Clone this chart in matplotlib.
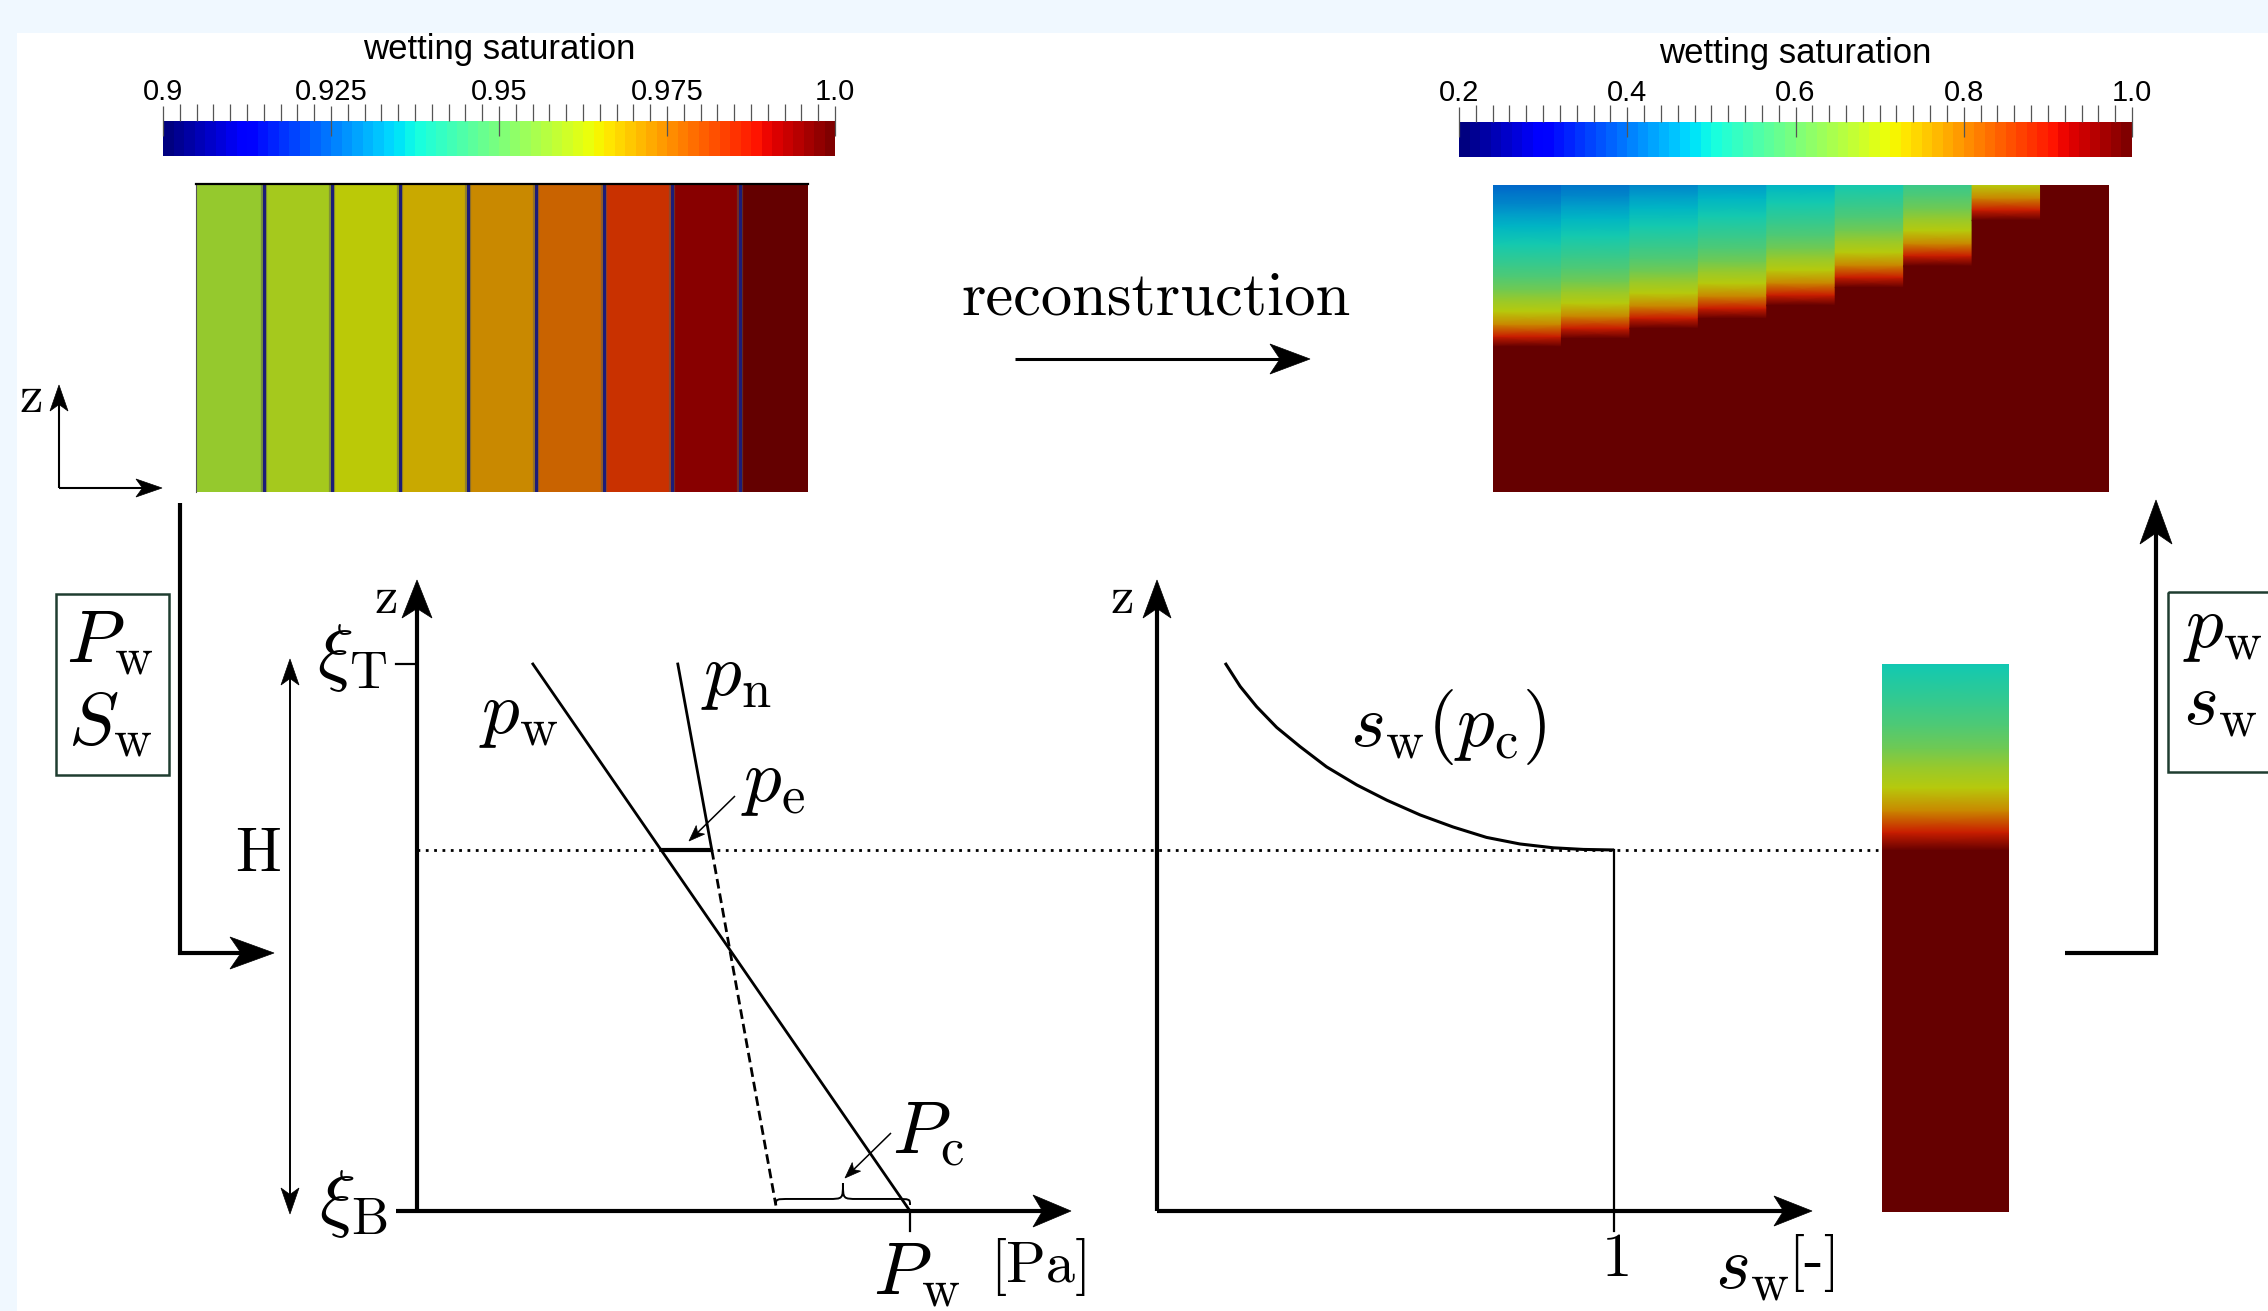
import numpy as np
import matplotlib.pyplot as plt
import matplotlib.transforms as mtransforms
from matplotlib.colors import Normalize, ListedColormap
from matplotlib.cm import ScalarMappable
from matplotlib.patches import Polygon, Rectangle, PathPatch
from matplotlib.path import Path
from matplotlib.ticker import MultipleLocator

plt.rcParams['mathtext.fontset'] = 'cm'

# ---- data ----
# left field: wetting saturation of the 9 coarse columns
strip_sat = [0.958, 0.9605, 0.964, 0.9683, 0.9725, 0.9775, 0.984, 0.9958, 1.0]
# right field: height of the saturation front in each column (domain height = 1)
front_z = [0.474, 0.501, 0.534, 0.566, 0.609, 0.667, 0.737, 0.886, 1.0]
# saturation profile above the front (height above front, saturation)
profile_h = [0.0, 0.033, 0.072, 0.114, 0.153, 0.186, 0.228, 0.263, 0.333,
             0.391, 0.434, 0.466, 0.499, 0.528]
profile_s = [1.0, 0.896, 0.784, 0.704, 0.664, 0.616, 0.576, 0.552, 0.504,
             0.48, 0.456, 0.432, 0.416, 0.40]

cbar1_ticks = [0.9, 0.925, 0.95, 0.975, 1.0]
cbar1_labels = ['0.9', '0.925', '0.95', '0.975', '1.0']
cbar2_ticks = [0.2, 0.4, 0.6, 0.8, 1.0]
cbar2_labels = ['0.2', '0.4', '0.6', '0.8', '1.0']

# pressure sketch (z: xi_B = 0, xi_T = 1, pressure: P_w = 1)
z_entry = 0.660
pw_p = [0.235, 1.0]
pw_z = [1.0, 0.0]
pn_p = [0.529, 0.598]
pn_z = [1.0, z_entry]
pn_dash_p = [0.598, 0.728]
pn_dash_z = [z_entry, 0.01]
pe_p = [0.494, 0.598]

# saturation sketch s_w(p_c)
sw_s = [0.149, 0.182, 0.218, 0.262, 0.313, 0.371, 0.437, 0.503, 0.576,
        0.648, 0.721, 0.794, 0.867, 0.933, 1.0]
sw_z = [1.002, 0.959, 0.922, 0.884, 0.849, 0.812, 0.779, 0.751, 0.724,
        0.702, 0.683, 0.671, 0.664, 0.661, z_entry]

# ---- figure ----
W, H = 2268, 1311
fig = plt.figure(figsize=(W / 100, H / 100), dpi=100, facecolor='#f0f8ff')
ax0 = fig.add_axes([0, 0, 1, 1])
ax0.set_xlim(0, W)
ax0.set_ylim(H, 0)
ax0.axis('off')
ax0.add_patch(Rectangle((17, 33), W, H, facecolor='white', edgecolor='none'))


def px_axes(x0, y0, x1, y1):
    return fig.add_axes([x0 / W, 1 - y1 / H, (x1 - x0) / W, (y1 - y0) / H])


def head(tip, d, L, w, notch=0.25):
    d = np.asarray(d, float)
    d = d / np.hypot(*d)
    n = np.array([-d[1], d[0]])
    tip = np.asarray(tip, float)
    back = tip - L * d
    pts = [tip, back + w * n, tip - L * (1 - notch) * d, back - w * n]
    ax0.add_patch(Polygon(pts, closed=True, fc='k', ec='k', lw=0.5, zorder=5))


def arrow(points, L, w, lw, both=False):
    pts = np.array(points, float)
    line = pts.copy()
    d = pts[-1] - pts[-2]
    line[-1] = pts[-1] - 0.6 * L * d / np.hypot(*d)
    if both:
        d0 = pts[0] - pts[1]
        line[0] = pts[0] - 0.6 * L * d0 / np.hypot(*d0)
        head(pts[0], d0, L, w)
    ax0.plot(line[:, 0], line[:, 1], color='k', lw=lw,
             solid_capstyle='butt', solid_joinstyle='miter')
    head(pts[-1], d, L, w)


jet = plt.get_cmap('jet')
bar_cmap = plt.get_cmap('jet', 64)
shade = ListedColormap(jet(np.linspace(0, 1, 256))[:, :3] * 0.79)


def colorbar(rect, vmin, vmax, ticks, labels, minor):
    cax = px_axes(*rect)
    cb = fig.colorbar(ScalarMappable(Normalize(vmin, vmax), bar_cmap), cax=cax,
                      orientation='horizontal')
    cb.outline.set_visible(False)
    cax.xaxis.set_ticks_position('top')
    cb.set_ticks(ticks, labels=labels)
    cb.minorlocator = MultipleLocator(minor)
    cax.tick_params(which='major', direction='inout', length=22, width=0.9,
                    color='#555555', pad=-0.5, labelsize=21)
    cax.tick_params(which='minor', direction='out', length=12, width=0.9,
                    color='#555555')
    for t in cax.get_xticklabels():
        t.set_fontfamily('Liberation Sans')
    return cax


colorbar((163, 121, 835, 156), 0.9, 1.0, cbar1_ticks, cbar1_labels, 0.0025)
colorbar((1459, 122, 2132, 157), 0.2, 1.0, cbar2_ticks, cbar2_labels, 0.02)
ax0.text(499, 50, 'wetting saturation', ha='center', va='center', fontsize=25,
         family='Liberation Sans')
ax0.text(1795, 53, 'wetting saturation', ha='center', va='center', fontsize=25,
         family='Liberation Sans')

# left field (coarse columns)
ah1 = px_axes(196, 184, 808, 492)
ah1.imshow([strip_sat], cmap=shade, norm=Normalize(0.9, 1.0), aspect='auto',
           extent=(0, len(strip_sat), 0, 1), interpolation='nearest')
ah1.set_xlim(0, len(strip_sat))
ah1.set_ylim(0, 1)
ah1.set_xticks([])
ah1.set_yticks([])
for s in ['right', 'bottom']:
    ah1.spines[s].set_visible(False)
ah1.spines['top'].set_linewidth(1.6)
ah1.spines['left'].set_color('#555555')
for k in range(1, len(strip_sat)):
    ah1.axvline(k, color='#5a5a50', lw=4.5, alpha=0.5)
    ah1.axvline(k, color='#1c1c78', lw=2.2)


def column_field(ax, i, zf, norm):
    nodes = np.concatenate([[0.0], zf + np.array(profile_h)])
    vals = np.concatenate([[1.0], profile_s])
    X = np.column_stack([np.full_like(nodes, i), np.full_like(nodes, i + 1)])
    Y = np.column_stack([nodes, nodes])
    C = np.column_stack([vals, vals])
    ax.pcolormesh(X, Y, C, shading='gouraud', cmap=shade, norm=norm)


# right field (reconstructed)
ah2 = px_axes(1493, 185, 2109, 492)
for i, zf in enumerate(front_z):
    column_field(ah2, i, zf, Normalize(0.2, 1.0))
ah2.set_xlim(0, len(front_z))
ah2.set_ylim(0, 1)
ah2.axis('off')

# single reconstructed column next to the sketch
ac = px_axes(1882, 664, 2009, 1212)
column_field(ac, 0, z_entry, Normalize(0.2, 1.0))
ac.set_xlim(0, 1)
ac.set_ylim(0, 1)
ac.axis('off')

# ---- pressure sketch ----
X1, Y1, P_UNIT, Z_UNIT = 417, 1211, 493, 547
ax1 = px_axes(X1, 580, 1071, Y1)
ax1.set_xlim(0, (1071 - X1) / P_UNIT)
ax1.set_ylim(0, (Y1 - 580) / Z_UNIT)
ax1.axis('off')
ax1.plot(pw_p, pw_z, color='k', lw=2, clip_on=False)
ax1.plot(pn_p, pn_z, color='k', lw=2, clip_on=False)
ax1.plot(pn_dash_p, pn_dash_z, color='k', lw=2, ls=(0, (3.5, 1.8)), clip_on=False)
ax1.plot(pe_p, [z_entry, z_entry], color='k', lw=3, clip_on=False,
         solid_capstyle='butt')
blend = mtransforms.blended_transform_factory(ax0.transData, ax1.transData)
ax1.plot([X1, 1878], [z_entry, z_entry], color='k', lw=2, ls=(0, (1, 2)),
         transform=blend, clip_on=False)

# brace under the capillary pressure
a, b = pn_dash_p[-1], pw_p[-1]
m = (a + b) / 2
y0, y1, y2, d = 0.011, 0.022, 0.051, 0.03
verts = [(a, y0), (a, y1), (a, y1), (a + d, y1), (m - d, y1),
         (m, y1), (m, y1), (m, y2), (m, y1), (m, y1), (m + d, y1),
         (b - d, y1), (b, y1), (b, y1), (b, y0)]
codes = [Path.MOVETO] + [Path.CURVE4] * 3 + [Path.LINETO] + [Path.CURVE4] * 6 + \
        [Path.LINETO] + [Path.CURVE4] * 3
ax1.add_patch(PathPatch(Path(verts, codes), fill=False, lw=1.4, clip_on=False))

# axes of pressure sketch
arrow([(X1, Y1), (X1, 580)], 38, 15, 3)
arrow([(396, Y1), (1071, Y1)], 38, 16, 3)
ax0.plot([396, X1], [664, 664], color='k', lw=1.6)
ax0.plot([910, 910], [Y1, 1231], color='k', lw=1.6)
arrow([(290, 659), (290, 1214)], 26, 9, 1.4, both=True)
arrow([(735, 796), (689, 841)], 16, 6, 1.1)
arrow([(891, 1133), (845, 1178)], 16, 6, 1.1)

# ---- saturation sketch ----
X2, S_UNIT = 1157, 457
ax2 = px_axes(X2, 580, 1812, Y1)
ax2.set_xlim(0, (1812 - X2) / S_UNIT)
ax2.set_ylim(0, (Y1 - 580) / Z_UNIT)
ax2.axis('off')
ax2.plot(sw_s, sw_z, color='k', lw=2.2, clip_on=False,
         solid_joinstyle='round', solid_capstyle='butt')
ax2.plot([1, 1], [z_entry, -20 / Z_UNIT], color='k', lw=1.6, clip_on=False)
arrow([(X2, Y1), (X2, 580)], 38, 14, 3)
arrow([(X2, Y1), (1812, Y1)], 38, 15, 3)

# ---- flow arrows and boxes ----
arrow([(180, 503), (180, 953), (274, 953)], 44, 16, 3)
arrow([(2065, 953), (2156, 953), (2156, 500)], 44, 16, 3)
arrow([(59, 488), (59, 385)], 26, 9, 1.5)
arrow([(59, 488), (162, 488)], 26, 9, 1.5)
arrow([(1015, 359), (1310, 359)], 40, 15, 2.2)
ax0.add_patch(Rectangle((56, 594), 113, 181, fc='none', ec='#1f3d30', lw=1.8))
ax0.add_patch(Rectangle((2168, 592), 200, 180, fc='none', ec='#1f3d30', lw=1.8))

# ---- labels ----
MS = 54
RS = 44
rm = dict(family='cmr10', ha='center', va='center')
ax0.text(1156, 299, 'reconstruction', fontsize=45, **rm)
ax0.text(31, 399, 'z', fontsize=38, **rm)
ax0.text(386, 600, 'z', fontsize=38, **rm)
ax0.text(1122, 600, 'z', fontsize=38, **rm)
ax0.text(258, 855, 'H', fontsize=RS, **rm)
ax0.text(1617, 1260, '1', fontsize=RS, **rm)
ax0.text(1041, 1267, '[Pa]', fontsize=42, **rm)
ax0.text(1752, 1268, r'$s_\mathrm{w}$', fontsize=MS, ha='center', va='center')
ax0.text(1814, 1263, '[-]', fontsize=42, **rm)
ax0.text(388, 658, r'$\xi_\mathrm{T}$', fontsize=MS, ha='right', va='center')
ax0.text(388, 1204, r'$\xi_\mathrm{B}$', fontsize=MS, ha='right', va='center')
ax0.text(519, 713, r'$p_\mathrm{w}$', fontsize=MS, ha='center', va='center')
ax0.text(736, 676, r'$p_\mathrm{n}$', fontsize=MS, ha='center', va='center')
ax0.text(773, 782, r'$p_\mathrm{e}$', fontsize=MS, ha='center', va='center')
ax0.text(928, 1133, r'$P_\mathrm{c}$', fontsize=MS, ha='center', va='center')
ax0.text(917, 1274, r'$P_\mathrm{w}$', fontsize=MS, ha='center', va='center')
ax0.text(1448, 727, r'$s_\mathrm{w}(p_\mathrm{c})$', fontsize=MS, ha='center', va='center')
ax0.text(110, 642, r'$P_\mathrm{w}$', fontsize=MS, ha='center', va='center')
ax0.text(110, 724, r'$S_\mathrm{w}$', fontsize=MS, ha='center', va='center')
ax0.text(2183, 627, r'$p_\mathrm{w}$', fontsize=MS, ha='left', va='center')
ax0.text(2183, 704, r'$s_\mathrm{w}$', fontsize=MS, ha='left', va='center')

fig.savefig('out.png', dpi=100, facecolor=fig.get_facecolor())
